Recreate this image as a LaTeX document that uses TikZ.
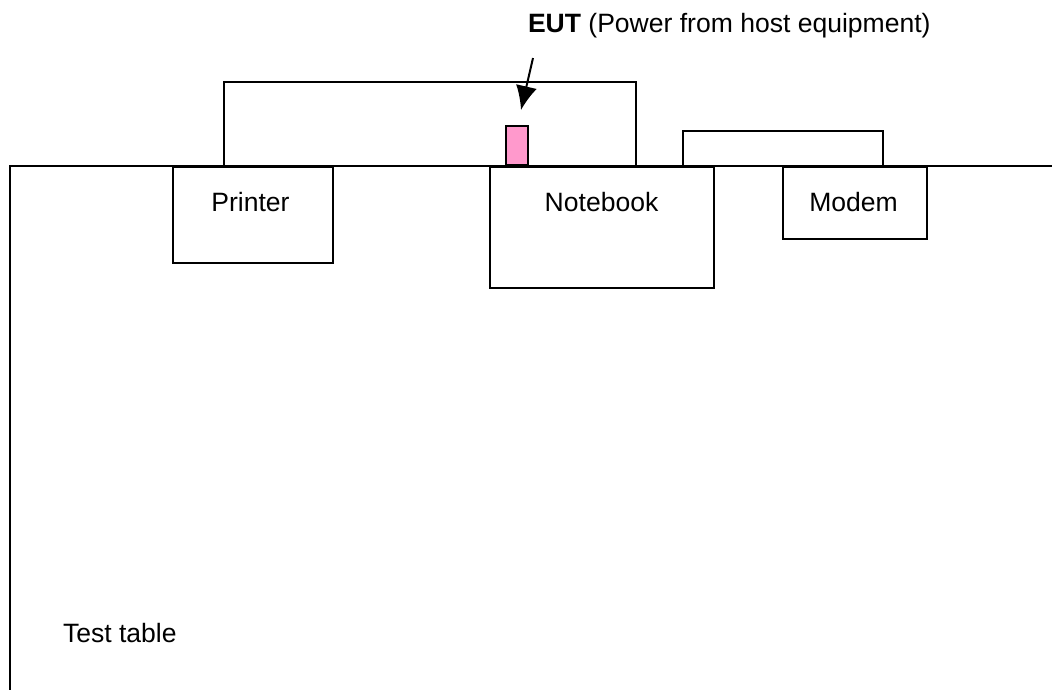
\documentclass[tikz,border=0pt]{standalone}
\usepackage{fontspec}
\setmainfont{Liberation Sans}
\usetikzlibrary{arrows.meta,calc}
\begin{document}
\begin{tikzpicture}[x=0.75pt,y=-0.75pt,
  line width=1.5pt,
  box/.style={draw=black,line width=1.5pt,fill=white,inner sep=0pt,anchor=north west},
  txt/.style={inner sep=0pt,font=\fontsize{19.9pt}{24pt}\selectfont},
  cable/.style={draw=black,line width=1.5pt}]
\useasboundingbox (0,0) rectangle (1052,690);
% table
\coordinate (tr) at (1052,166);
\coordinate (tl) at (10,166);
\coordinate (bl) at (10,690);
\draw (tr) -- (tl) -- (bl);
% devices
\node[box,minimum width=120pt,minimum height=72pt] (printer) at (172,166) {};
\node[box,minimum width=168pt,minimum height=90.75pt] (notebook) at (489,166) {};
\node[box,minimum width=108pt,minimum height=54pt] (modem) at (782,166) {};
\node[box,fill={rgb,255:red,255;green,153;blue,204},minimum width=16.5pt,minimum height=29.25pt,anchor=south west] (eut) at (505,166) {};
% cables
\draw[cable] ($(printer.north west)+(52,0)$) -- ++(0,-84) -| ($(notebook.north west)+(147,0)$);
\draw[cable] ($(notebook.north east)+(-32,0)$) -- ++(0,-35) -| ($(modem.north west)+(101,0)$);
% labels
\node[txt,anchor=base] (lp) at (250.5,211) {Printer};
\node[txt,anchor=base] (ln) at (601.5,211) {Notebook};
\node[txt,anchor=base] (lm) at (853.5,211) {Modem};
\node[txt,anchor=base west] (lt) at (62,642) {Test table};
\node[txt,anchor=base west] (leut) at (527,32) {\textbf{EUT} (Power from host equipment)};
% arrow
\coordinate (as) at (533,58);
\draw[-{Latex[length=18pt,width=16pt]},line width=1.5pt] (as) -- ($(eut.north)+(4,-15)$);
\end{tikzpicture}
\end{document}
